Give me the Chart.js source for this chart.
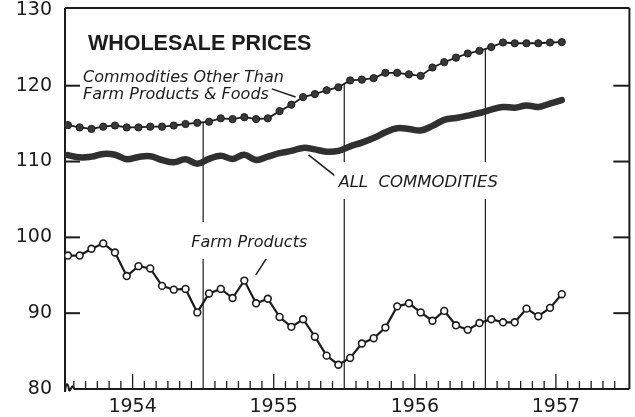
<!DOCTYPE html>
<html>
<head>
<meta charset="utf-8">
<script src="https://cdn.jsdelivr.net/npm/chart.js@4.4.1/dist/chart.umd.min.js"></script>
<style>
  html, body { margin: 0; background: #fff; }
  #wrap { width: 635px; height: 417px; }
</style>
</head>
<body>
<div id="wrap"><canvas id="chart"></canvas></div>
<script>
'use strict';

// --- data: monthly index, Jan 1954 .. Jul 1957 (1947-49 = 100) ---
const years = ['1954', '1955', '1956', '1957'];
const yTicks = [80, 90, 100, 110, 120, 130];

const otherCommodities = [
    114.8, 114.5, 114.3, 114.6, 114.75, 114.5, 114.5, 114.6, 114.6, 114.75, 114.95, 115.1,
    115.25, 115.7, 115.6, 115.85, 115.6, 115.7, 116.65, 117.5, 118.5, 118.9, 119.4, 119.8,
    120.7, 120.8, 121.0, 121.7, 121.7, 121.5, 121.3, 122.4, 123.1, 123.7, 124.25, 124.6,
    125.1, 125.7, 125.6, 125.6, 125.6, 125.7, 125.75
];
const allCommodities = [
    110.85, 110.55, 110.65, 111.0, 110.9, 110.3, 110.6, 110.7, 110.2, 109.9, 110.3, 109.7,
    110.35, 110.75, 110.35, 110.9, 110.2, 110.65, 111.1, 111.4, 111.8, 111.6, 111.3, 111.4,
    112.0, 112.5, 113.1, 113.85, 114.4, 114.3, 114.1, 114.7, 115.5, 115.75, 116.05, 116.4,
    116.85, 117.2, 117.1, 117.4, 117.2, 117.65, 118.1
];
const farmProducts = [
    97.6, 97.6, 98.5, 99.2, 98.0, 94.9, 96.2, 95.9, 93.6, 93.1, 93.2, 90.1,
    92.6, 93.2, 92.0, 94.3, 91.3, 91.9, 89.5, 88.2, 89.2, 86.9, 84.4, 83.2,
    84.1, 86.0, 86.7, 88.1, 90.9, 91.3, 90.1, 89.0, 90.3, 88.4, 87.8, 88.7,
    89.2, 88.8, 88.8, 90.6, 89.6, 90.7, 92.5
];

const INK = '#1c1c1c';
const toPoints = arr => arr.map((v, i) => ({ x: i + 0.5, y: v }));

// labels and pointers, placed in chart units (month, index value)
const notes = [
    { text: 'WHOLESALE PRICES', font: 'bold 21.5px "Liberation Sans"', m: 2.2, v: 124.72 },
    { text: 'Commodities Other Than', font: 'italic 16px "DejaVu Sans"', m: 1.78, v: 120.5 },
    { text: 'Farm Products & Foods', font: 'italic 16px "DejaVu Sans"', m: 1.78, v: 118.2 },
    { text: 'ALL  COMMODITIES', font: 'italic 16.5px "DejaVu Sans"', m: 23.5, v: 106.65, box: true },
    { text: 'Farm Products', font: 'italic 16px "DejaVu Sans"', m: 10.99, v: 98.73, box: true }
];
const pointers = [
    [17.84, 119.58, 19.86, 118.52],
    [20.96, 110.87, 23.33, 107.97],
    [17.58, 97.68, 16.48, 95.04]
];

const decor = {
    id: 'decor',
    beforeDatasetsDraw(chart) {
        const { ctx, chartArea: a, scales: { x, y } } = chart;
        const seg = (x1, y1, x2, y2) => { ctx.beginPath(); ctx.moveTo(x1, y1); ctx.lineTo(x2, y2); ctx.stroke(); };
        ctx.save();
        ctx.strokeStyle = INK;
        ctx.fillStyle = INK;

        // year dividers hang from the upper series
        ctx.lineWidth = 1.2;
        for (let k = 1; k < years.length; k++) {
            const m = k * 12;
            const top = y.getPixelForValue((otherCommodities[m - 1] + otherCommodities[m]) / 2);
            const px = x.getPixelForValue(m);
            seg(px, top, px, a.bottom);
        }

        // month ticks, longer at mid-year
        ctx.lineWidth = 1.3;
        for (let m = 1; m < 48; m++) {
            if (m % 12 === 0) continue;
            const px = x.getPixelForValue(m);
            seg(px, a.bottom, px, a.bottom - (m % 12 === 6 ? 15 : 8));
        }

        // inward value ticks on both sides
        ctx.lineWidth = 2;
        yTicks.slice(1, -1).forEach(v => {
            const py = y.getPixelForValue(v);
            seg(a.left, py, a.left + 15, py);
            seg(a.right, py, a.right - 16, py);
        });

        // frame
        ctx.lineWidth = 2;
        seg(a.left, a.top, a.right, a.top);
        seg(a.right, a.top, a.right, a.bottom);
        seg(a.left, a.top, a.left, a.bottom + 3);
        seg(a.left + 9, a.bottom, a.right, a.bottom);
        // axis break squiggle
        ctx.beginPath();
        ctx.moveTo(a.left, a.bottom + 3);
        ctx.bezierCurveTo(a.left + 1, a.bottom - 7, a.left + 3, a.bottom - 7, a.left + 4, a.bottom + 1);
        ctx.bezierCurveTo(a.left + 5, a.bottom + 4, a.left + 7, a.bottom - 5, a.left + 8, a.bottom - 2);
        ctx.quadraticCurveTo(a.left + 9, a.bottom, a.left + 10, a.bottom);
        ctx.stroke();

        // pointer lines
        ctx.lineWidth = 1.5;
        pointers.forEach(([m1, v1, m2, v2]) =>
            seg(x.getPixelForValue(m1), y.getPixelForValue(v1), x.getPixelForValue(m2), y.getPixelForValue(v2)));

        // text, with a white patch where it crosses a divider
        ctx.textBaseline = 'alphabetic';
        notes.forEach(n => {
            ctx.font = n.font;
            const px = x.getPixelForValue(n.m);
            const py = y.getPixelForValue(n.v);
            if (n.box) {
                const w = ctx.measureText(n.text).width;
                ctx.fillStyle = '#fff';
                ctx.fillRect(px - 4, py - 25, w + 8, 37);
                ctx.fillStyle = INK;
            }
            ctx.fillText(n.text, px, py);
        });
        ctx.restore();
    }
};

new Chart(document.getElementById('chart'), {
    type: 'line',
    data: {
        datasets: [
            {
                label: 'Commodities Other Than Farm Products & Foods',
                data: toPoints(otherCommodities),
                borderColor: INK,
                borderWidth: 1.8,
                pointRadius: 3.6,
                pointBackgroundColor: '#383838',
                pointBorderColor: INK,
                pointBorderWidth: 1
            },
            {
                label: 'All Commodities',
                data: toPoints(allCommodities),
                borderColor: '#303030',
                borderWidth: 6.5,
                pointRadius: 0,
                tension: 0.4,
                borderCapStyle: 'round'
            },
            {
                label: 'Farm Products',
                data: toPoints(farmProducts),
                borderColor: INK,
                borderWidth: 2.2,
                pointRadius: 3.4,
                pointBackgroundColor: '#fff',
                pointBorderColor: INK,
                pointBorderWidth: 1.6
            }
        ]
    },
    options: {
        responsive: true,
        maintainAspectRatio: false,
        animation: false,
        devicePixelRatio: 1,
        layout: { padding: { top: 8, right: 2, left: 0, bottom: 0 } },
        plugins: { legend: { display: false }, tooltip: { enabled: false } },
        scales: {
            x: {
                type: 'linear',
                min: 0.25,
                max: 48.25,
                grid: { display: false, drawTicks: false },
                border: { display: false },
                afterBuildTicks: s => { s.ticks = years.map((_, i) => ({ value: i * 12 + 6 })); },
                afterFit: s => { s.height = 28; s.paddingLeft = 0; s.paddingRight = 0; },
                ticks: {
                    autoSkip: false,
                    maxRotation: 0,
                    padding: 7,
                    color: INK,
                    font: { family: '"DejaVu Sans"', size: 19 },
                    callback: (v, i) => years[i]
                }
            },
            y: {
                min: 80,
                max: 130.25,
                grid: { display: false, drawTicks: false },
                border: { display: false },
                afterBuildTicks: s => { s.ticks = yTicks.map(v => ({ value: v })); },
                afterFit: s => { s.width = 65; s.paddingTop = 0; s.paddingBottom = 0; },
                ticks: {
                    padding: 13,
                    color: INK,
                    font: { family: '"DejaVu Sans"', size: 19 }
                }
            }
        }
    },
    plugins: [decor]
});
</script>
</body>
</html>
